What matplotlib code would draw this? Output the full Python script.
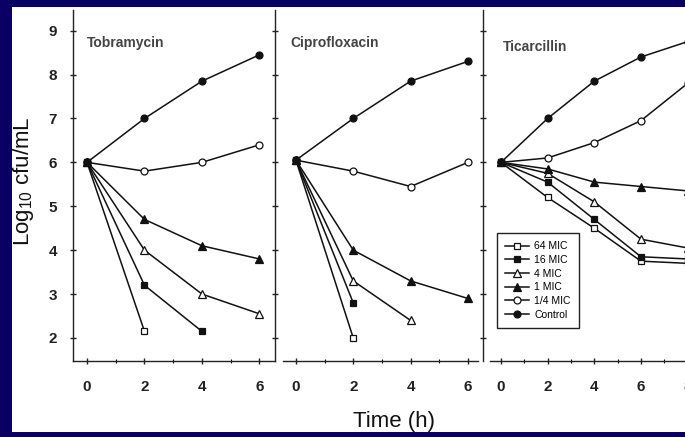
import matplotlib
matplotlib.use("Agg")
import matplotlib.pyplot as plt
from matplotlib.patches import Rectangle
from matplotlib.ticker import MultipleLocator

# --- data (log10 cfu/mL) ---
TIME = [0, 2, 4, 6, 8]
LABELS = ["64 MIC", "16 MIC", "4 MIC", "1 MIC", "1/4 MIC", "Control"]
MARKERS = ["s", "s", "^", "^", "o", "o"]
FILLED = [False, True, False, True, False, True]

tob_64mic = [6.0, 2.15]
tob_16mic = [6.0, 3.2, 2.15]
tob_4mic = [6.0, 4.0, 3.0, 2.55]
tob_1mic = [6.0, 4.7, 4.1, 3.8]
tob_quarter = [6.0, 5.8, 6.0, 6.4]
tob_control = [6.0, 7.0, 7.85, 8.45]

cip_64mic = [6.05, 2.0]
cip_16mic = [6.05, 2.8]
cip_4mic = [6.05, 3.3, 2.4]
cip_1mic = [6.05, 4.0, 3.3, 2.9]
cip_quarter = [6.05, 5.8, 5.45, 6.0]
cip_control = [6.05, 7.0, 7.85, 8.3]

tic_64mic = [6.0, 5.2, 4.5, 3.75, 3.7]
tic_16mic = [6.0, 5.55, 4.7, 3.85, 3.8]
tic_4mic = [6.0, 5.75, 5.1, 4.25, 4.05]
tic_1mic = [6.0, 5.85, 5.55, 5.45, 5.35]
tic_quarter = [6.0, 6.1, 6.45, 6.95, 7.8]
tic_control = [6.0, 7.0, 7.85, 8.4, 8.75]

DRUGS = ["Tobramycin", "Ciprofloxacin", "Ticarcillin"]
SERIES = [
    [tob_64mic, tob_16mic, tob_4mic, tob_1mic, tob_quarter, tob_control],
    [cip_64mic, cip_16mic, cip_4mic, cip_1mic, cip_quarter, cip_control],
    [tic_64mic, tic_16mic, tic_4mic, tic_1mic, tic_quarter, tic_control],
]

# --- layout (pixels of a 685x437 canvas) ---
W, H = 685, 437
plt.rcParams['font.family'] = ['Liberation Sans', 'DejaVu Sans']
plt.rcParams['mathtext.fontset'] = 'custom'
plt.rcParams['mathtext.rm'] = 'Liberation Sans'
plt.rcParams['mathtext.default'] = 'regular'

fig = plt.figure(figsize=(W / 100, H / 100), dpi=100)
fig.patch.set_facecolor('#0a0064')
fig.add_artist(Rectangle((12 / W, 5 / H), 1, (432 - 7) / H,
                         transform=fig.transFigure, facecolor='white',
                         edgecolor='none', zorder=0))

top, bottom = 10, 361
ylim = (1.476, 9.47)
# left px, right px, xlim, bottom spine bounds, title x/y, xticks
panels = [
    (73, 275, (-0.487, 6.54), None, 0.0, 8.72, [0, 2, 4, 6]),
    (275, 482, (-0.73, 6.49), (-0.45, 6.35), -0.2, 8.72, [0, 2, 4, 6]),
    (483, 735, (-0.77, 10.03), (-0.47, 10.03), 0.08, 8.63, [0, 2, 4, 6, 8]),
]

axes = []
for i, (l, r, xl, bnd, tx, ty, xt) in enumerate(panels):
    ax = fig.add_axes([l / W, 1 - bottom / H, (r - l) / W, (bottom - top) / H])
    ax.patch.set_visible(False)
    for s in ['top', 'right']:
        ax.spines[s].set_visible(False)
    for s in ['left', 'bottom']:
        ax.spines[s].set_linewidth(1.0)
        ax.spines[s].set_color('#222222')
    if bnd:
        ax.spines['bottom'].set_bounds(*bnd)
    ax.set_xlim(*xl)
    ax.set_ylim(*ylim)
    ax.set_xticks(xt)
    ax.xaxis.set_minor_locator(MultipleLocator(1))
    ax.set_yticks(range(2, 10))
    ax.tick_params(axis='both', which='major', direction='inout', length=4,
                   width=1, color='#222222', labelsize=11)
    ax.tick_params(axis='x', which='major', pad=12)
    ax.tick_params(axis='x', which='minor', direction='inout', length=2.5, width=0.8)
    ax.tick_params(axis='y', pad=9.5, labelleft=(i == 0))
    for lab in ax.get_xticklabels() + ax.get_yticklabels():
        lab.set_fontweight('bold')
        lab.set_color('#222222')

    for vals, lbl, mk, fill in zip(SERIES[i], LABELS, MARKERS, FILLED):
        ax.plot(TIME[:len(vals)], vals, color='#111111', lw=1.1,
                marker=mk, markersize=5 if mk != '^' else 5.5,
                markerfacecolor='#111111' if fill else 'white',
                markeredgecolor='#111111', markeredgewidth=0.9,
                label=lbl, clip_on=True)
    ax.text(tx, ty, DRUGS[i], fontsize=10, fontweight='bold', color='#444444',
            ha='left', va='center')
    axes.append(ax)

leg = axes[2].legend(loc='upper left', bbox_to_anchor=(497 / W, 1 - 233 / H),
                     bbox_transform=fig.transFigure, borderaxespad=0,
                     fontsize=7.5, handlelength=2.3, handletextpad=0.5,
                     labelspacing=0.35, borderpad=0.8, fancybox=False,
                     framealpha=1, edgecolor='#222222')
leg.get_frame().set_linewidth(1.0)

fig.text(23 / W, 1 - 181 / H, 'Log$_{10}$ cfu/mL', rotation=90, fontsize=16,
         ha='center', va='center', color='#111111')
fig.text(394 / W, 1 - 421 / H, 'Time (h)', fontsize=16, ha='center',
         va='center', color='#111111')

fig.savefig('out.png', dpi=100, facecolor=fig.get_facecolor())
